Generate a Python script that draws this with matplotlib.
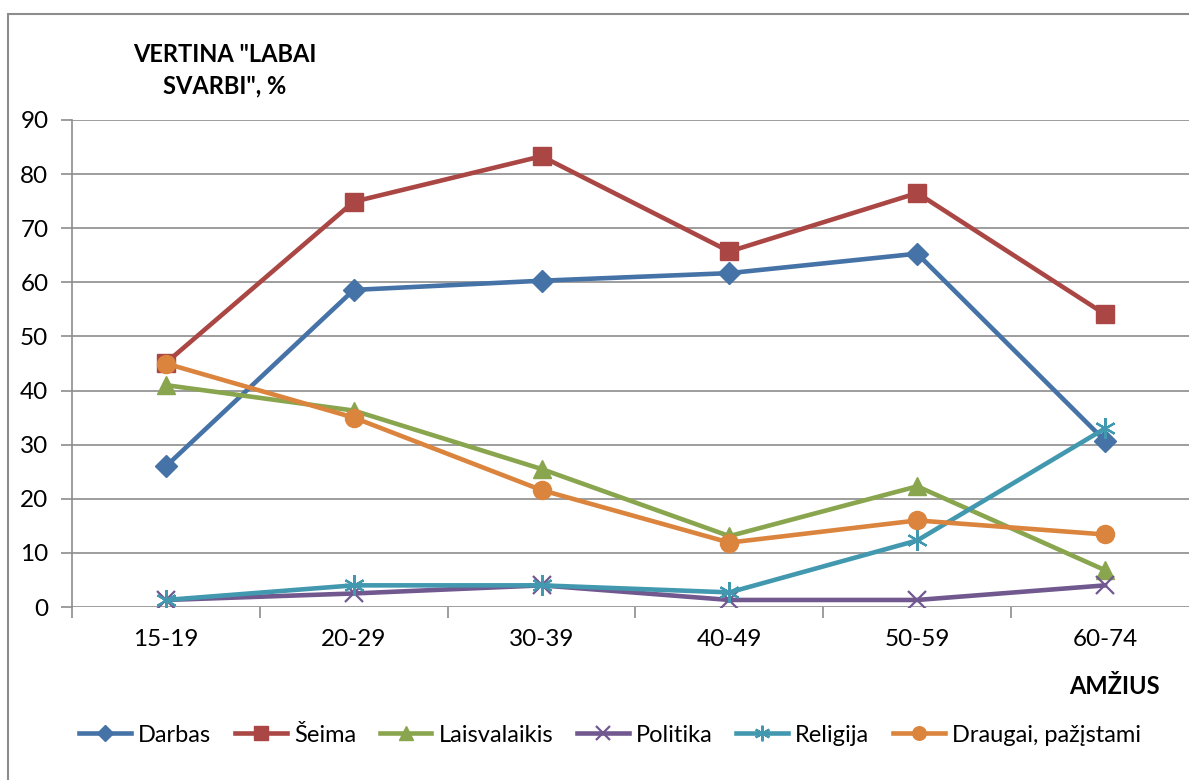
# line chart: share of respondents rating life areas "labai svarbi", by age group
import numpy as np
import matplotlib.pyplot as plt
from matplotlib.patches import Rectangle

plt.rcParams['font.family'] = ['Lato', 'DejaVu Sans']

# age groups on the x axis
ages = ['15-19', '20-29', '30-39', '40-49', '50-59', '60-74']

# values, %
darbas = [26, 58.6, 60.3, 61.7, 65.3, 30.7]
seima = [45.1, 74.9, 83.3, 65.7, 76.5, 54.1]
laisvalaikis = [41, 36.3, 25.5, 13.1, 22.3, 6.8]
politika = [1.3, 2.5, 4, 1.3, 1.3, 4]
religija = [1.3, 4, 4, 2.7, 12.3, 33]
draugai = [45, 35, 21.6, 11.9, 16, 13.4]

series_names = ['Darbas', 'Šeima', 'Laisvalaikis', 'Politika', 'Religija', 'Draugai, pažįstami']

W, H = 1189, 780
fig = plt.figure(figsize=(W / 100, H / 100), dpi=100)

# outer chart border (runs off the right and bottom edge like the reference)
fig.patches.append(Rectangle((8 / W, -0.1), 1.2, (H - 14) / H + 0.1,
                             transform=fig.transFigure, fill=False,
                             edgecolor='#8c8c8c', linewidth=1.5))

# plot area in pixel coordinates: x 72..1199, y 120..607
ax = fig.add_axes([72 / W, (H - 607) / H, (1199 - 72) / W, (607 - 120) / H])

x = np.arange(len(ages))
lw = 3.3
ax.plot(x, darbas, color='#4572A7', linewidth=lw, marker='D', markersize=11, label=series_names[0])
ax.plot(x, seima, color='#AA4643', linewidth=lw, marker='s', markersize=13, label=series_names[1])
ax.plot(x, laisvalaikis, color='#89A54E', linewidth=lw, marker='^', markersize=13, label=series_names[2])
ax.plot(x, politika, color='#71588F', linewidth=lw, marker='x', markersize=13, markeredgewidth=1.6, label=series_names[3])
ax.plot(x, religija, color='#4198AF', linewidth=lw, marker=(6, 2, 0), markersize=15, markeredgewidth=1.6, label=series_names[4])
ax.plot(x, draugai, color='#DB843D', linewidth=lw, marker='o', markersize=13, label=series_names[5])

ax.set_xlim(-0.5, 5.5)
ax.set_ylim(0, 90)
ax.set_yticks(np.arange(0, 91, 10))
ax.set_xticks(x)
ax.set_xticklabels(ages)
ax.set_xticks(np.arange(-0.5, 5.6, 1), minor=True)

# horizontal grid like Excel
ax.grid(axis='y', color='#8c8c8c', linewidth=1.2)
ax.set_axisbelow(True)
for side in ['top', 'right', 'bottom']:
    ax.spines[side].set_visible(False)
ax.spines['left'].set_color('#8c8c8c')
ax.spines['left'].set_linewidth(1.2)

ax.tick_params(axis='y', length=8, width=1.2, color='#8c8c8c', labelsize=17.5, pad=9)
ax.tick_params(axis='x', which='major', length=0, labelsize=17.5, pad=16)
ax.tick_params(axis='x', which='minor', length=8, width=1.2, color='#8c8c8c')

# axis titles
fig.text(225 / W, 1 - 70 / H, 'VERTINA "LABAI\nSVARBI", %', ha='center', va='center',
         fontsize=17, fontweight='bold', linespacing=1.45)
fig.text(1160 / W, 1 - 686 / H, 'AMŽIUS', ha='right', va='center',
         fontsize=17, fontweight='bold')

fig.legend(loc='center', bbox_to_anchor=(610 / W, 1 - 735 / H), ncol=6, frameon=False,
           fontsize=17, handlelength=2.2, handletextpad=0.3, columnspacing=1.0,
           markerscale=0.75)

plt.savefig('out.png', dpi=100)
